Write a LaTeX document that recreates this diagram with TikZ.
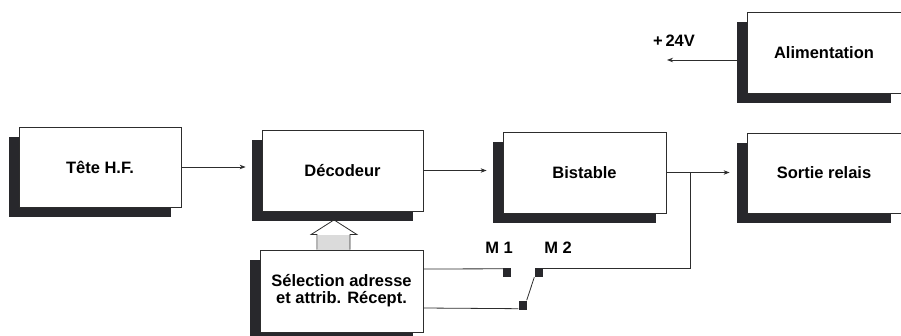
\documentclass[tikz,border=0pt]{standalone}
\usepackage{fontspec}
\setmainfont{Liberation Sans}
\usetikzlibrary{shadows,arrows.meta,calc}
\definecolor{shade}{RGB}{40,40,44}
\definecolor{ink}{RGB}{45,45,45}
\begin{document}
\begin{tikzpicture}[x=1pt,y=-1pt,
  font=\fontsize{16.5}{18}\selectfont\bfseries,
  blk/.style={draw=ink,line width=0.8pt,fill=white,inner sep=0pt,align=center,
    general shadow={fill=shade,shadow xshift=-10pt,shadow yshift=-10pt}},
  wire/.style={draw=ink,line width=0.8pt},
  arr/.style={wire,-{Stealth[length=6pt,width=4.5pt]}},
  contact/.style={fill=shade,draw=none,minimum width=8pt,minimum height=9pt,inner sep=0pt}]
\useasboundingbox (0,0) rectangle (901,336);
\begin{scope}
\clip (0,0) rectangle (901,336);
\node[blk,minimum width=162pt,minimum height=80pt] (tete) at (100,167) {Tête H.F.};
\node[blk,minimum width=161pt,minimum height=81pt] (dec) at (342.5,170.5) {Décodeur};
\node[blk,minimum width=163pt,minimum height=81pt] (bist) at (584.5,172.5) {Bistable};
\node[blk,minimum width=154pt,minimum height=80pt] (sortie) at (824,173) {Sortie relais};
\node[blk,minimum width=154pt,minimum height=81pt] (alim) at (824,52.5) {Alimentation};
\node[blk,minimum width=163pt,minimum height=82pt] (sel) at (341.5,291) {Sélection adresse\\[-1pt]et attrib. Récept.};

% main chain
\draw[arr,shorten >=16pt] (tete.east) -- (tete.east -| dec.west);
\draw[arr,shorten >=16pt] (dec.east) -- (dec.east -| bist.west);
\draw[arr,shorten >=17pt] (bist.east) -- (bist.east -| sortie.west);

% supply
\coordinate (v24) at (667,60);
\draw[arr] ($(alim.west)+(-10,7.5)$) -- (v24);
\node[anchor=south] (lbl24) at (674,50) {+\,24V};

% hollow arrow
\coordinate (hb) at ($(sel.north)+(-7.5,0)$);
\coordinate (ht) at ($(dec.south)+(-8.5,8.5)$);
\fill[black!14] ($(hb)+(-16.5,0)$) rectangle ($(hb)+(15.5,-15)$);
\draw[ink,line width=0.8pt] ($(hb)+(-17,0)$) -- ($(hb)+(-17,-15)$) -- ($(hb)+(-23,-15)$) -- (ht)
  -- ($(hb)+(23,-15)$) -- ($(hb)+(16,-15)$) -- ($(hb)+(16,0)$);

% switch contacts
\node[contact] (m1) at (507,272.5) {};
\node[contact] (m2a) at (538.5,272.5) {};
\node[contact] (m2b) at (522.5,305) {};
\node (lm1) at (499,248) {M 1};
\node (lm2) at (558,248) {M 2};
\coordinate (jn) at (bist.east -| 690,0);
\draw[wire] (sel.east |- 0,269) -- ($(m1.north west)+(0,1)$);
\draw[wire] (sel.east |- 0,308) -- ($(m2b.south west)+(0,-1)$);
\draw[wire] (m2b.north east) -- (m2a.south west);
\draw[wire] ($(m2a.north east)+(0,1)$) -| (jn);
\end{scope}
\end{tikzpicture}
\end{document}
